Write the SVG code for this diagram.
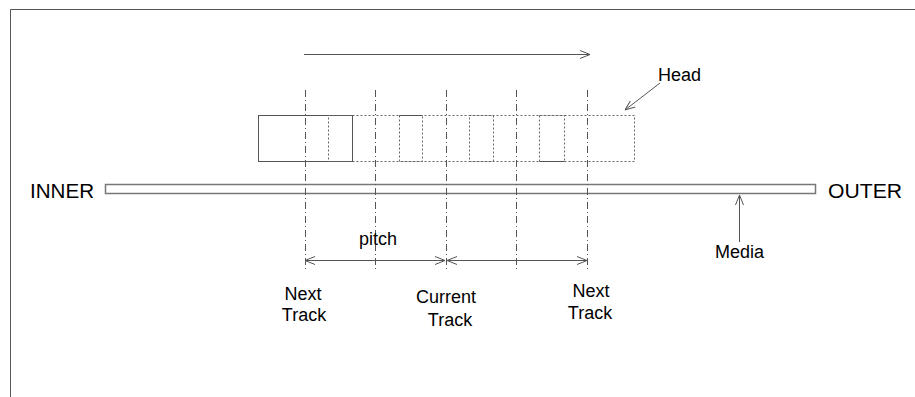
<svg xmlns="http://www.w3.org/2000/svg" width="915" height="397" viewBox="0 0 915 397">
<style>
.ln{stroke:#555;stroke-width:1;fill:none}
.dd{stroke:#555;stroke-width:1;fill:none;stroke-dasharray:7 3 1 3}
.dot{stroke:#666;stroke-width:1;fill:none;stroke-dasharray:2 2}
.t{font-family:"Liberation Sans",Arial,sans-serif;font-size:18px;fill:#000}
.big{font-size:20px}
</style>
<defs>
<marker id="ah" viewBox="0 0 10 10" refX="10" refY="5" markerWidth="10" markerHeight="10" markerUnits="userSpaceOnUse" orient="auto-start-reverse">
<path d="M0,1 L10,5 L0,9" fill="none" stroke="#555" stroke-width="1"/>
</marker>
</defs>
<g id="frame"><path class="ln" d="M10.5,397 V9.5 H915" stroke-width="1.5"/></g>
<g id="media">
<rect x="105.5" y="184.5" width="710" height="9" fill="#fff" stroke="#777" stroke-width="1.5"/>
</g>
<g id="head">
<rect class="ln" x="258.5" y="115.5" width="94" height="46"/>
<rect class="dot" x="328.5" y="115.5" width="306" height="46"/>
<rect class="dot" x="399.5" y="115.5" width="23" height="46"/>
<rect class="dot" x="469.5" y="115.5" width="24" height="46"/>
<rect class="dot" x="539.5" y="115.5" width="25" height="46"/>
<path class="ln" d="M399.5,115.5 H422.5 M539.5,161.5 H564.5"/>
</g>
<g id="tracks">
<line class="dd" x1="305.5" y1="90" x2="305.5" y2="272"/>
<line class="dd" x1="375.5" y1="90" x2="375.5" y2="272"/>
<line class="dd" x1="446.5" y1="90" x2="446.5" y2="272"/>
<line class="dd" x1="516.5" y1="90" x2="516.5" y2="272"/>
<line class="dd" x1="587.5" y1="90" x2="587.5" y2="272"/>
</g>
<g id="connectors">
<line class="ln" x1="304" y1="54.5" x2="590" y2="54.5" marker-end="url(#ah)"/>
<line class="ln" x1="660" y1="83" x2="625" y2="110" marker-end="url(#ah)"/>
<line class="ln" x1="739.5" y1="242" x2="739.5" y2="195" marker-end="url(#ah)"/>
<line class="ln" x1="305" y1="260.5" x2="445" y2="260.5" marker-start="url(#ah)" marker-end="url(#ah)"/>
<line class="ln" x1="447" y1="260.5" x2="587" y2="260.5" marker-start="url(#ah)" marker-end="url(#ah)"/>
</g>
<g id="labels">
<text class="t big" x="30" y="198" textLength="64" lengthAdjust="spacingAndGlyphs">INNER</text>
<text class="t big" x="828" y="198" textLength="74" lengthAdjust="spacingAndGlyphs">OUTER</text>
<text class="t" x="658" y="81">Head</text>
<text class="t" x="715" y="258">Media</text>
<text class="t" x="359" y="245">pitch</text>
<text class="t" text-anchor="middle" x="303" y="300">Next</text>
<text class="t" text-anchor="middle" x="304" y="321">Track</text>
<text class="t" text-anchor="middle" x="446" y="303">Current</text>
<text class="t" text-anchor="middle" x="450" y="326">Track</text>
<text class="t" text-anchor="middle" x="591" y="297">Next</text>
<text class="t" text-anchor="middle" x="590" y="319">Track</text>
</g>
</svg>
